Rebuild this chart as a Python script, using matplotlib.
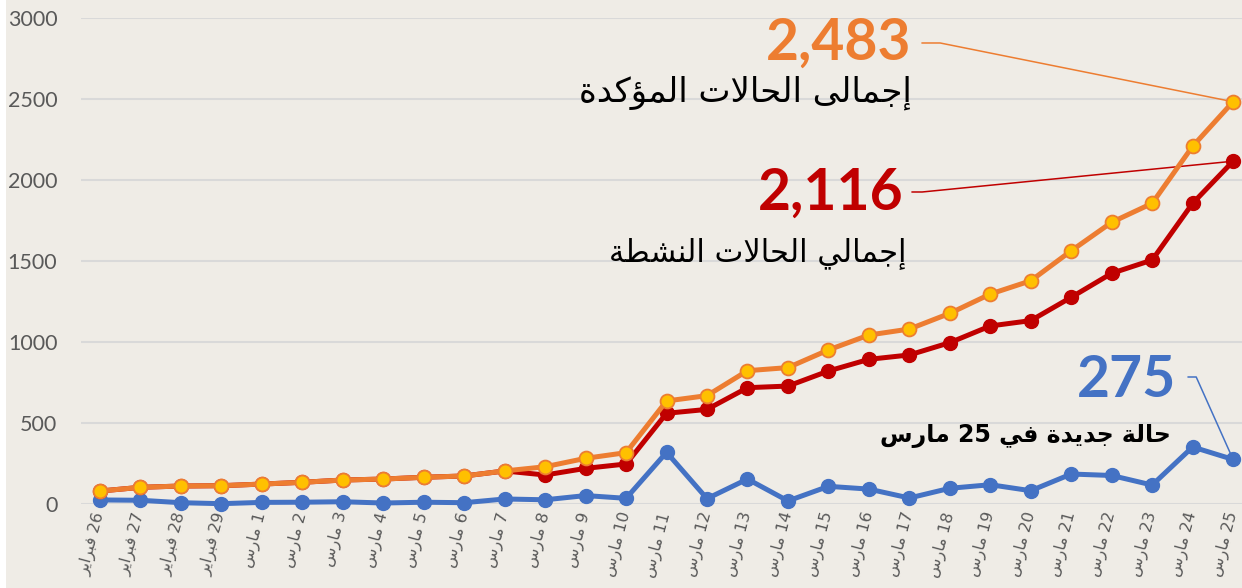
import matplotlib
matplotlib.use("Agg")
import matplotlib.pyplot as plt
from matplotlib.patches import Rectangle

# ── data ──────────────────────────────────────────────
DAYS   = ["26", "27", "28", "29"] + [str(d) for d in range(1, 26)]
MONTHS = ["فبراير"] * 4 + ["مارس"] * 25

TOTAL  = [80, 103, 111, 113, 123, 134, 148, 154, 165, 173, 204, 230, 282, 317,
          636, 669, 823, 842, 951, 1043, 1080, 1177, 1296, 1378, 1563, 1739,
          1856, 2208, 2483]
ACTIVE = [80, 103, 111, 113, 123, 134, 148, 154, 165, 173, 204, 179, 220, 247,
          560, 584, 718, 728, 821, 893, 920, 996, 1099, 1132, 1276, 1424,
          1506, 1856, 2116]
NEW    = [25, 23, 8, 2, 10, 11, 14, 6, 11, 8, 31, 26, 52, 35,
          319, 33, 154, 19, 109, 92, 37, 97, 119, 82, 185, 176,
          117, 352, 275]

LBL_TOTAL  = "إجمالى الحالات المؤكدة"
LBL_ACTIVE = "إجمالي الحالات النشطة"
LBL_NEW    = "حالة جديدة في 25 مارس"

BG     = "#efece6"
ORANGE = "#ed7d31"
GOLD   = "#ffc000"
RED    = "#c00000"
BLUE   = "#4472c4"
GREY   = "#595959"

# ── tiny arabic shaper (matplotlib has no bidi / shaping) ──
FORMS = {
    "ا": ("\uFE8D", "\uFE8E", None, None),
    "أ": ("\uFE83", "\uFE84", None, None),
    "إ": ("\uFE87", "\uFE88", None, None),
    "ؤ": ("\uFE85", "\uFE86", None, None),
    "ب": ("\uFE8F", "\uFE90", "\uFE91", "\uFE92"),
    "ة": ("\uFE93", "\uFE94", None, None),
    "ت": ("\uFE95", "\uFE96", "\uFE97", "\uFE98"),
    "ج": ("\uFE9D", "\uFE9E", "\uFE9F", "\uFEA0"),
    "ح": ("\uFEA1", "\uFEA2", "\uFEA3", "\uFEA4"),
    "د": ("\uFEA9", "\uFEAA", None, None),
    "ر": ("\uFEAD", "\uFEAE", None, None),
    "س": ("\uFEB1", "\uFEB2", "\uFEB3", "\uFEB4"),
    "ش": ("\uFEB5", "\uFEB6", "\uFEB7", "\uFEB8"),
    "ط": ("\uFEC1", "\uFEC2", "\uFEC3", "\uFEC4"),
    "ف": ("\uFED1", "\uFED2", "\uFED3", "\uFED4"),
    "ك": ("\uFED9", "\uFEDA", "\uFEDB", "\uFEDC"),
    "ل": ("\uFEDD", "\uFEDE", "\uFEDF", "\uFEE0"),
    "م": ("\uFEE1", "\uFEE2", "\uFEE3", "\uFEE4"),
    "ن": ("\uFEE5", "\uFEE6", "\uFEE7", "\uFEE8"),
    "ى": ("\uFEEF", "\uFEF0", None, None),
    "ي": ("\uFEF1", "\uFEF2", "\uFEF3", "\uFEF4"),
}
LAM_ALEF = {"ا": ("\uFEFB", "\uFEFC"), "أ": ("\uFEF7", "\uFEF8"),
            "إ": ("\uFEF9", "\uFEFA")}


def shape_word(word):
    toks = []
    i = 0
    while i < len(word):
        if word[i] == "ل" and i + 1 < len(word) and word[i + 1] in LAM_ALEF:
            toks.append(("LA", word[i + 1]))
            i += 2
        else:
            toks.append(("C", word[i]))
            i += 1

    def joins_fwd(t):
        return t[0] == "C" and t[1] in FORMS and FORMS[t[1]][2] is not None

    out = []
    for k, t in enumerate(toks):
        prev = k > 0 and joins_fwd(toks[k - 1])
        if t[0] == "LA":
            out.append(LAM_ALEF[t[1]][1 if prev else 0])
            continue
        ch = t[1]
        if ch not in FORMS:
            out.append(ch)
            continue
        nxt = k + 1 < len(toks) and joins_fwd(t)
        iso, fin, ini, med = FORMS[ch]
        if prev and nxt:
            out.append(med)
        elif prev:
            out.append(fin)
        elif nxt:
            out.append(ini)
        else:
            out.append(iso)
    return "".join(reversed(out))


def ar(text):
    words = []
    for w in text.split(" "):
        if any(c in FORMS for c in w):
            words.append(shape_word(w))
        else:
            words.append(w)
    return " ".join(reversed(words))


# ── figure ────────────────────────────────────────────
fig = plt.figure(figsize=(12.42, 5.88), dpi=100, facecolor=BG)
fig.patches.append(Rectangle((0, 0), 6 / 1242, 1, transform=fig.transFigure,
                             facecolor="white", edgecolor="none"))
ax = fig.add_axes([81 / 1242, 1 - 504 / 588, 1 - 81 / 1242, (504 - 18) / 588])
ax.set_facecolor(BG)

x = list(range(len(DAYS)))

ax.plot(x, NEW, color=BLUE, lw=3.6, marker="o", ms=10, mfc=BLUE, mec=BLUE,
        zorder=3, clip_on=False)
ax.plot(x, ACTIVE, color=RED, lw=3.6, marker="o", ms=10, mfc=RED, mec=RED,
        zorder=4, clip_on=False)
ax.plot(x, TOTAL, color=ORANGE, lw=3.6, marker="o", ms=10, mfc=GOLD,
        mec=ORANGE, mew=1.3, zorder=5, clip_on=False)

ax.set_ylim(0, 3000)
ax.set_xlim(-0.47, 28.22)
ax.set_yticks(range(0, 3001, 500))
ax.grid(axis="y", color="#d9d9d9", lw=1.5)
ax.set_axisbelow(True)
for s in ax.spines.values():
    s.set_visible(False)
ax.tick_params(axis="both", length=0)
ax.tick_params(axis="y", pad=17)
ax.tick_params(axis="x", pad=6)
for lab in ax.get_yticklabels():
    lab.set_fontfamily("Lato")
    lab.set_fontsize(15.5)
    lab.set_color(GREY)

ax.set_xticks(x)
ax.set_xticklabels([ar(f"{d} {m}") for d, m in zip(DAYS, MONTHS)],
                   rotation=75, ha="right", va="center", rotation_mode="anchor",
                   fontsize=11.5, color=GREY, family="DejaVu Sans")


def px(xp, yp):
    # pixel position in the picture -> data coordinates
    return (xp - 100) / 40.46, (504 - yp) * 6.173


last = len(DAYS) - 1
callouts = [
    (TOTAL, ORANGE, "2,483", LBL_TOTAL, 24.5, "normal",
     (911, 43), (912, 93), (922, 43), (940, 43)),
    (ACTIVE, RED, "2,116", LBL_ACTIVE, 22, "normal",
     (903, 193), (906, 253), (912, 192), (922, 192)),
    (NEW, BLUE, "275", LBL_NEW, 17, "bold",
     (1176, 381), (1171, 436), (1188, 377), (1196, 377)),
]
for series, col, big, lbl, fs, fw, p_big, p_lbl, p0, p1 in callouts:
    bx, by = px(*p_big)
    ax.text(bx, by, big, color=col, fontsize=41, fontweight="bold",
            family="Lato", ha="right", va="center", zorder=6)
    lx, ly = px(*p_lbl)
    ax.text(lx, ly, ar(lbl), color="black", fontsize=fs, fontweight=fw,
            family="DejaVu Sans", ha="right", va="center", zorder=6)
    a = px(*p0)
    b = px(*p1)
    ax.plot([a[0], b[0], last], [a[1], b[1], series[last]], color=col, lw=1.1,
            zorder=2, clip_on=False)

fig.savefig("out.png", dpi=100, facecolor=BG)
